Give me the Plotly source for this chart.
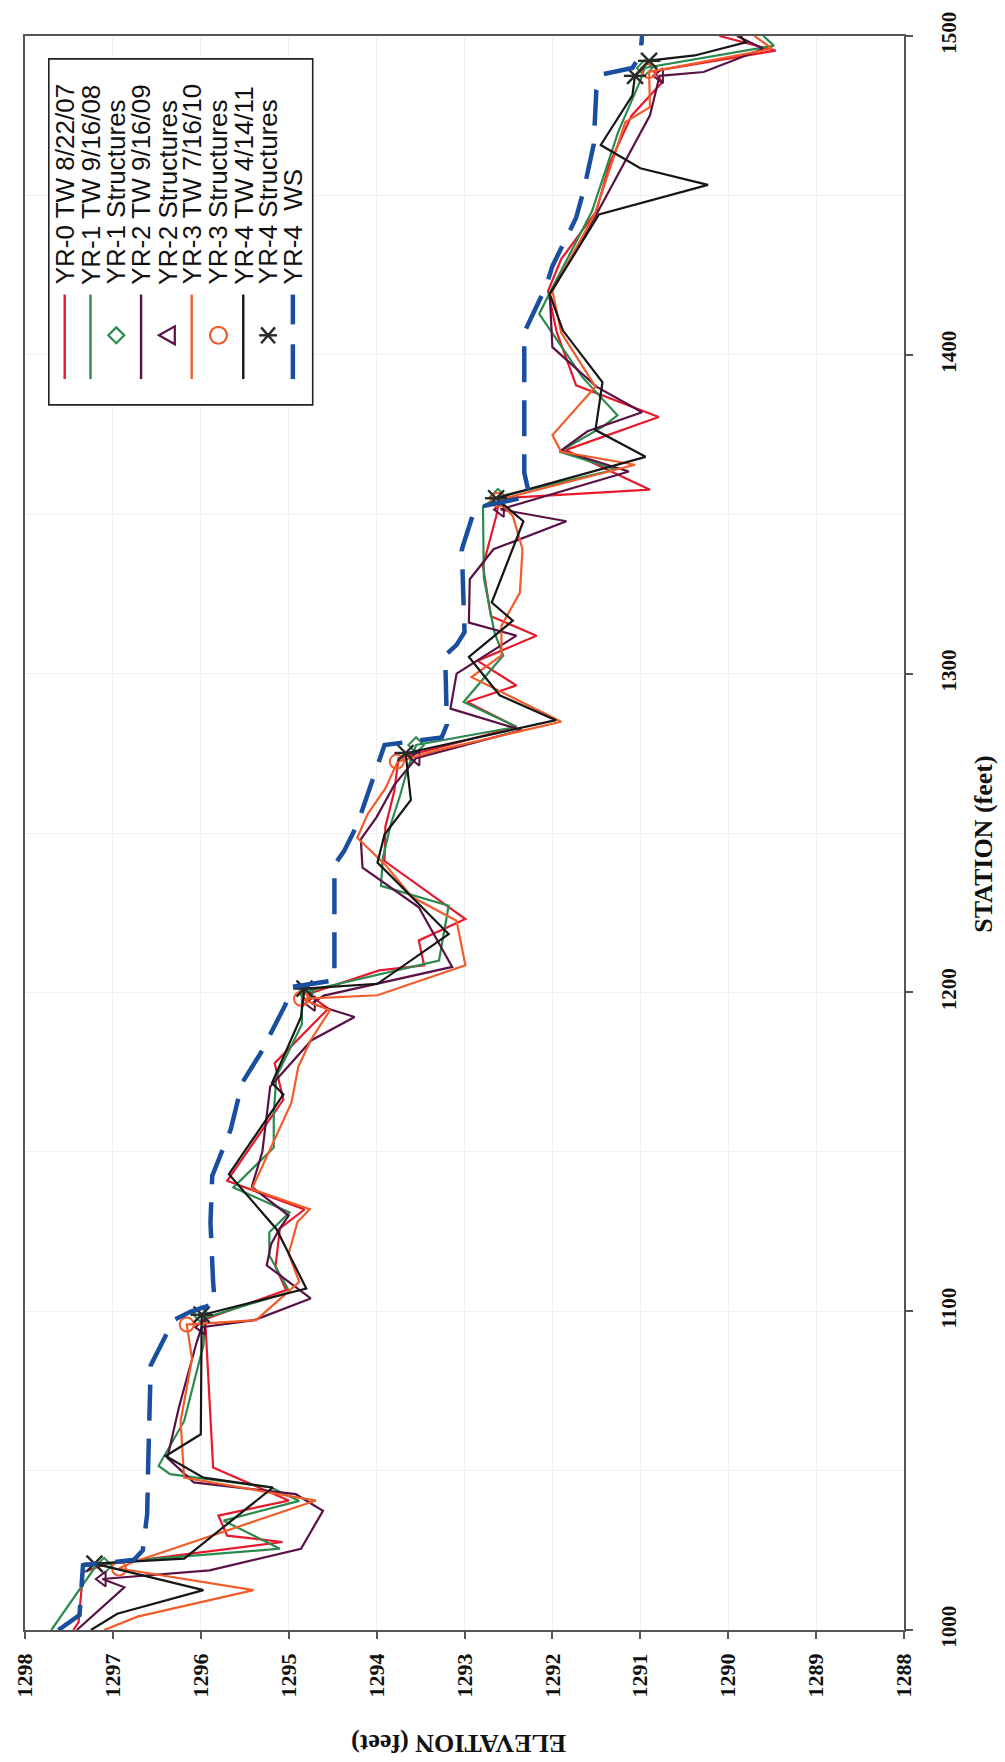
import plotly.graph_objects as go

# ---------------- data (station in feet, elevation in feet) ----------------
yr0_station = [1000, 1002.5, 1018.1, 1020.5, 1027.6, 1029.6, 1035.9, 1040.6, 1051.0, 1070.0,
               1093.6, 1097.5, 1106.6, 1114.0, 1126.0, 1131.9, 1140.9, 1166.4, 1177.8, 1194.9,
               1199.5, 1206.9, 1208.5, 1216.3, 1223.0, 1241.2, 1252.0, 1263.0, 1273.5, 1283.3,
               1291.1, 1296.3, 1304.0, 1311.9, 1318.0, 1333.7, 1349.3, 1355.0, 1357.7, 1370.1,
               1380.5, 1390.4, 1407.0, 1420.0, 1430.0, 1445.0, 1460.0, 1475.0, 1485.5, 1489.0,
               1495.4, 1500]
yr0_elev = [1297.45, 1297.39, 1297.34, 1297.10, 1295.07, 1295.70, 1295.80, 1295.00, 1295.86, 1295.90,
            1295.95, 1295.95, 1295.03, 1295.15, 1295.10, 1294.82, 1295.70, 1295.06, 1295.16, 1294.55,
            1294.78, 1293.97, 1293.46, 1293.52, 1292.99, 1293.91, 1293.90, 1293.80, 1293.75, 1292.41,
            1292.97, 1292.41, 1292.85, 1292.18, 1292.70, 1292.79, 1292.64, 1292.60, 1290.89, 1291.85,
            1290.79, 1291.73, 1291.95, 1292.05, 1291.90, 1291.50, 1291.35, 1291.10, 1290.75, 1290.85,
            1289.46, 1290.10]

yr1_station = [1000, 1020.2, 1021.5, 1025.5, 1034.3, 1040.5, 1044.7, 1048.9, 1051.5, 1065.5,
               1089.4, 1098.0, 1106.0, 1117.5, 1124.8, 1131.0, 1138.8, 1151.3, 1162.0, 1173.6,
               1190.0, 1199.5, 1201.0, 1210.0, 1227.2, 1233.4, 1242.0, 1252.6, 1262.0, 1270.0,
               1277.6, 1283.3, 1291.1, 1305.7, 1313.0, 1330.0, 1352.5, 1355.5, 1364.0, 1369.6,
               1377.4, 1381.0, 1393.0, 1412.8, 1420.0, 1445.0, 1470.0, 1486.0, 1490.0, 1497.0,
               1500]
yr1_elev = [1297.70, 1297.19, 1296.90, 1295.10, 1295.74, 1294.88, 1295.20, 1296.35, 1296.48, 1296.19,
            1295.97, 1295.95, 1294.99, 1295.22, 1295.22, 1294.99, 1295.63, 1295.17, 1295.17, 1295.14,
            1294.85, 1294.85, 1294.70, 1293.29, 1293.18, 1293.95, 1293.93, 1293.84, 1293.73, 1293.65,
            1293.55, 1292.41, 1293.01, 1292.56, 1292.66, 1292.78, 1292.79, 1292.62, 1291.28, 1291.92,
            1291.43, 1291.26, 1291.66, 1292.15, 1292.02, 1291.55, 1291.25, 1291.00, 1290.95, 1289.48,
            1289.60]

yr2_station = [1000, 1013.4, 1016.0, 1018.7, 1025.5, 1037.4, 1042.6, 1046.3, 1054.0, 1069.7,
               1090.0, 1095.0, 1097.2, 1104.0, 1114.4, 1121.0, 1126.0, 1130.0, 1139.0, 1150.0,
               1170.5, 1185.0, 1192.3, 1196.5, 1199.0, 1208.0, 1226.7, 1239.1, 1248.0, 1255.0,
               1265.0, 1273.5, 1282.3, 1289.0, 1300.0, 1311.9, 1316.0, 1329.6, 1339.0, 1347.8,
               1351.5, 1363.4, 1370.0, 1376.0, 1382.0, 1390.0, 1402.4, 1419.0, 1444.0, 1475.1,
               1487.5, 1488.7, 1496.0, 1500]
yr2_elev = [1297.41, 1296.87, 1297.12, 1295.90, 1294.86, 1294.61, 1294.92, 1296.08, 1296.38, 1296.25,
            1296.05, 1295.99, 1295.39, 1294.75, 1295.25, 1295.20, 1295.10, 1295.00, 1295.42, 1295.30,
            1295.21, 1294.74, 1294.25, 1294.74, 1294.60, 1293.14, 1293.52, 1294.16, 1294.18, 1294.00,
            1293.80, 1293.55, 1292.35, 1293.16, 1293.09, 1292.41, 1292.95, 1292.94, 1292.67, 1291.84,
            1292.59, 1291.13, 1291.90, 1291.60, 1290.98, 1291.50, 1292.00, 1292.03, 1291.50, 1290.89,
            1290.78, 1290.28, 1289.60, 1289.90]

yr3_station = [1000, 1004.2, 1012.5, 1019.3, 1021.0, 1040.6, 1047.8, 1065.5, 1085.0, 1095.8,
               1097.2, 1109.2, 1118.0, 1128.0, 1132.0, 1138.3, 1165.3, 1176.7, 1185.0, 1194.4,
               1198.0, 1199.1, 1208.5, 1222.5, 1230.0, 1240.0, 1248.5, 1256.0, 1264.0, 1272.4,
               1276.0, 1284.9, 1298.9, 1305.7, 1315.0, 1325.4, 1339.0, 1349.4, 1354.5, 1365.5,
               1369.6, 1374.8, 1390.0, 1407.0, 1420.0, 1444.0, 1473.0, 1477.7, 1488.7, 1496.0,
               1500]
yr3_elev = [1297.10, 1296.72, 1295.40, 1296.93, 1296.80, 1294.69, 1296.19, 1296.23, 1296.10, 1296.16,
            1295.37, 1294.88, 1295.00, 1294.90, 1294.76, 1295.42, 1294.97, 1294.89, 1294.75, 1294.53,
            1294.86, 1293.99, 1292.99, 1293.09, 1293.60, 1293.90, 1294.22, 1294.10, 1293.90, 1293.76,
            1293.30, 1291.90, 1292.92, 1292.58, 1292.58, 1292.37, 1292.34, 1292.45, 1292.62, 1291.06,
            1291.90, 1292.00, 1291.51, 1291.90, 1292.00, 1291.52, 1291.17, 1290.89, 1290.90, 1289.50,
            1289.70]

yr4_station = [1000, 1005.1, 1012.5, 1020.8, 1022.4, 1044.7, 1047.8, 1054.6, 1061.4, 1098.8,
               1107.1, 1125.8, 1143.0, 1168.0, 1171.6, 1192.3, 1201.2, 1202.7, 1218.3, 1240.7,
               1249.5, 1260.4, 1275.0, 1285.4, 1293.2, 1305.2, 1316.6, 1322.3, 1347.8, 1355.0,
               1368.0, 1376.4, 1391.4, 1407.6, 1419.0, 1444.0, 1453.3, 1458.5, 1465.8, 1481.4,
               1487.6, 1492.3, 1493.9, 1498.0, 1500]
yr4_elev = [1297.25, 1296.95, 1295.97, 1297.21, 1296.19, 1295.18, 1295.97, 1296.40, 1296.00, 1295.99,
            1294.80, 1295.14, 1295.68, 1295.06, 1295.19, 1294.86, 1294.82, 1293.99, 1293.18, 1293.99,
            1293.91, 1293.61, 1293.67, 1291.96, 1292.60, 1292.95, 1292.45, 1292.69, 1292.33, 1292.64,
            1290.94, 1291.51, 1291.43, 1291.88, 1292.03, 1291.47, 1290.23, 1291.00, 1291.45, 1291.09,
            1291.06, 1290.90, 1290.38, 1289.80, 1289.86]

ws_station = [1000, 1004.7, 1020.3, 1022.0, 1025.0, 1036.4, 1050.0, 1083.0, 1087.9, 1097.2,
              1099.8, 1102.4, 1109.2, 1127.9, 1142.4, 1157.0, 1171.6, 1180.9, 1196.0, 1201.7,
              1203.8, 1240.0, 1244.3, 1252.6, 1277.6, 1280.0, 1284.0, 1305.7, 1309.0, 1313.0,
              1339.0, 1352.0, 1355.6, 1363.0, 1390.0, 1407.0, 1411.7, 1421.6, 1427.8, 1443.0,
              1452.0, 1466.0, 1483.0, 1488.0, 1490.0, 1494.0, 1500]
ws_elev = [1297.62, 1297.38, 1297.34, 1296.76, 1296.66, 1296.61, 1296.60, 1296.57, 1296.48, 1296.31,
           1296.12, 1295.84, 1295.86, 1295.89, 1295.87, 1295.66, 1295.53, 1295.32, 1295.04, 1294.97,
           1294.48, 1294.48, 1294.37, 1294.22, 1293.91, 1293.26, 1293.20, 1293.22, 1293.09, 1293.00,
           1293.03, 1292.88, 1292.26, 1292.32, 1292.32, 1292.32, 1292.24, 1292.07, 1292.00, 1291.73,
           1291.64, 1291.53, 1291.50, 1291.43, 1291.09, 1291.00, 1290.98]

yr1_struct_station = [1020.2, 1099.0, 1200.0, 1277.6, 1355.5, 1490.0]
yr1_struct_elev = [1297.10, 1296.00, 1294.80, 1293.55, 1292.62, 1290.95]
yr2_struct_station = [1016.0, 1095.0, 1196.5, 1273.5, 1351.5, 1487.5]
yr2_struct_elev = [1297.12, 1295.99, 1294.74, 1293.55, 1292.59, 1290.78]
yr3_struct_station = [1019.3, 1095.8, 1198.0, 1272.4, 1354.5, 1489.0]
yr3_struct_elev = [1296.93, 1296.16, 1294.86, 1293.77, 1292.62, 1290.90]
yr4_struct_station = [1020.8, 1098.9, 1201.2, 1275.1, 1355.0, 1487.5, 1492.2]
yr4_struct_elev = [1297.21, 1295.99, 1294.82, 1293.67, 1292.64, 1291.06, 1290.90]

station_ticks = [1000, 1100, 1200, 1300, 1400, 1500]
elev_ticks = [1288, 1289, 1290, 1291, 1292, 1293, 1294, 1295, 1296, 1297, 1298]

legend_labels = ["YR-0 TW 8/22/07", "YR-1 TW 9/16/08", "YR-1 Structures", "YR-2 TW 9/16/09",
                 "YR-2 Structures", "YR-3 TW 7/16/10", "YR-3 Structures", "YR-4 TW 4/14/11",
                 "YR-4 Structures", "YR-4  WS"]

# ---------------- styles ----------------
RED, GREEN, PURPLE, ORANGE, BLACK, BLUE = "#e8192c", "#2b8a4e", "#5a1246", "#f25c2a", "#161616", "#1a4e9f"
AXC = "#555555"
GRID = "#f0f0ec"

# plot area in pixels
L, T, W, H = 18, 27, 886, 1603
FIG_W, FIG_H = 1005, 1762


def PX(px):
    return (px - L) / W


def PY(py):
    return (T + H - py) / H


fig = go.Figure()

def add_line(st, el, color, width=2.2, dash=None):
    fig.add_trace(go.Scatter(x=el, y=st, mode="lines", showlegend=False, hoverinfo="skip",
                             line=dict(color=color, width=width, dash=dash)))

def add_markers(st, el, symbol, color, size, lw=2.0):
    fig.add_trace(go.Scatter(x=el, y=st, mode="markers", showlegend=False, hoverinfo="skip",
                             marker=dict(symbol=symbol, size=size, color=color,
                                         line=dict(color=color, width=lw))))

add_line(yr0_station, yr0_elev, RED)
add_line(yr1_station, yr1_elev, GREEN)
add_markers(yr1_struct_station, yr1_struct_elev, "diamond-open", GREEN, 12)
add_line(yr2_station, yr2_elev, PURPLE)
add_markers(yr2_struct_station, yr2_struct_elev, "triangle-left-open", PURPLE, 13)
add_line(yr3_station, yr3_elev, ORANGE)
add_markers(yr3_struct_station, yr3_struct_elev, "circle-open", ORANGE, 14)
add_line(yr4_station, yr4_elev, BLACK)
add_markers(yr4_struct_station, yr4_struct_elev, "x-thin-open", "#2a2a2a", 16, 2.4)
add_markers(yr4_struct_station, yr4_struct_elev, "line-ew-open", "#2a2a2a", 16, 2.4)
add_line(ws_station, ws_elev, BLUE, width=4.5, dash="36px,18px")

serif_tick = dict(family="Liberation Serif", size=22, color="#111111", weight="bold")

fig.update_xaxes(range=[1298, 1288], tickvals=elev_ticks, tickangle=-90,
                 ticks="outside", ticklen=7, tickcolor=AXC, tickwidth=1.5,
                 showline=True, linecolor=AXC, linewidth=1.6, mirror=True,
                 showgrid=True, gridcolor=GRID, gridwidth=1, zeroline=False,
                 tickfont=serif_tick, ticklabelstandoff=6)
fig.update_yaxes(range=[1000, 1500], side="right", tickvals=station_ticks, tickangle=-90,
                 ticks="outside", ticklen=7, tickcolor=AXC, tickwidth=1.5,
                 showline=True, linecolor=AXC, linewidth=1.6, mirror=True,
                 showgrid=True, gridcolor=GRID, gridwidth=1, zeroline=False,
                 minor=dict(dtick=50, showgrid=True, gridcolor=GRID, gridwidth=1, ticks=""),
                 tickfont=dict(family="Liberation Serif", size=21, color="#111111", weight="bold"),
                 ticklabelstandoff=18)

# ---------------- custom rotated legend ----------------
shapes = []
annotations = []
shapes.append(dict(type="rect", xref="paper", yref="paper", x0=PX(42), x1=PX(308),
                   y0=PY(398), y1=PY(50), line=dict(color="#222222", width=1.6),
                   fillcolor="white", layer="above"))
col_x = [58, 84, 110, 135, 162, 186, 213, 238, 263, 288]
line_cols = {0: RED, 1: GREEN, 3: PURPLE, 5: ORANGE, 7: BLACK}
for i, cx in enumerate(col_x):
    annotations.append(dict(xref="paper", yref="paper", x=PX(cx), y=PY(279), text=legend_labels[i],
                            textangle=-90, showarrow=False, xanchor="center", yanchor="bottom",
                            font=dict(family="Liberation Sans", size=26, color="#111111")))
    if i in line_cols:
        shapes.append(dict(type="line", xref="paper", yref="paper", x0=PX(cx), x1=PX(cx),
                           y0=PY(287), y1=PY(372), line=dict(color=line_cols[i], width=2.4),
                           layer="above"))
cy = 328
# diamond
cx = col_x[2]
shapes.append(dict(type="path", xref="paper", yref="paper", layer="above",
                   path=f"M {PX(cx)},{PY(cy-8)} L {PX(cx+8)},{PY(cy)} L {PX(cx)},{PY(cy+8)} L {PX(cx-8)},{PY(cy)} Z",
                   line=dict(color=GREEN, width=2.2)))
# triangle (pointing left)
cx = col_x[4]
shapes.append(dict(type="path", xref="paper", yref="paper", layer="above",
                   path=f"M {PX(cx-9)},{PY(cy)} L {PX(cx+7)},{PY(cy-9)} L {PX(cx+7)},{PY(cy+9)} Z",
                   line=dict(color=PURPLE, width=2.2)))
# circle
cx = col_x[6]
shapes.append(dict(type="circle", xref="paper", yref="paper", layer="above",
                   x0=PX(cx-8.5), x1=PX(cx+8.5), y0=PY(cy+8.5), y1=PY(cy-8.5),
                   line=dict(color=ORANGE, width=2.2)))
# asterisk
cx = col_x[8]
for (dx0, dy0, dx1, dy1) in [(-7, -8, 7, 8), (-7, 8, 7, -8), (-9, 0, 9, 0)]:
    shapes.append(dict(type="line", xref="paper", yref="paper", layer="above",
                       x0=PX(cx+dx0), y0=PY(cy+dy0), x1=PX(cx+dx1), y1=PY(cy+dy1),
                       line=dict(color="#2a2a2a", width=2.4)))
# WS dashes
cx = col_x[9]
for (a, b) in [(287, 317), (337, 372)]:
    shapes.append(dict(type="line", xref="paper", yref="paper", layer="above",
                       x0=PX(cx), x1=PX(cx), y0=PY(a), y1=PY(b),
                       line=dict(color=BLUE, width=4.5)))

# axis titles
annotations.append(dict(xref="paper", yref="paper", x=PX(455), y=PY(1744),
                        text="<b>ELEVATION (feet)</b>", textangle=180, showarrow=False,
                        xanchor="center", yanchor="middle",
                        font=dict(family="Liberation Serif", size=26, color="#111111")))
annotations.append(dict(xref="paper", yref="paper", x=PX(984), y=PY(840),
                        text="<b>STATION (feet)</b>", textangle=-90, showarrow=False,
                        xanchor="center", yanchor="middle",
                        font=dict(family="Liberation Serif", size=26, color="#111111")))

fig.update_layout(width=FIG_W, height=FIG_H, autosize=False,
                  margin=dict(l=L, r=FIG_W - L - W, t=T, b=FIG_H - T - H, pad=0),
                  paper_bgcolor="white", plot_bgcolor="white", showlegend=False,
                  shapes=shapes, annotations=annotations)

fig.write_html("out.html", config={"displayModeBar": False},
               post_script="document.body.style.margin='0px';")
